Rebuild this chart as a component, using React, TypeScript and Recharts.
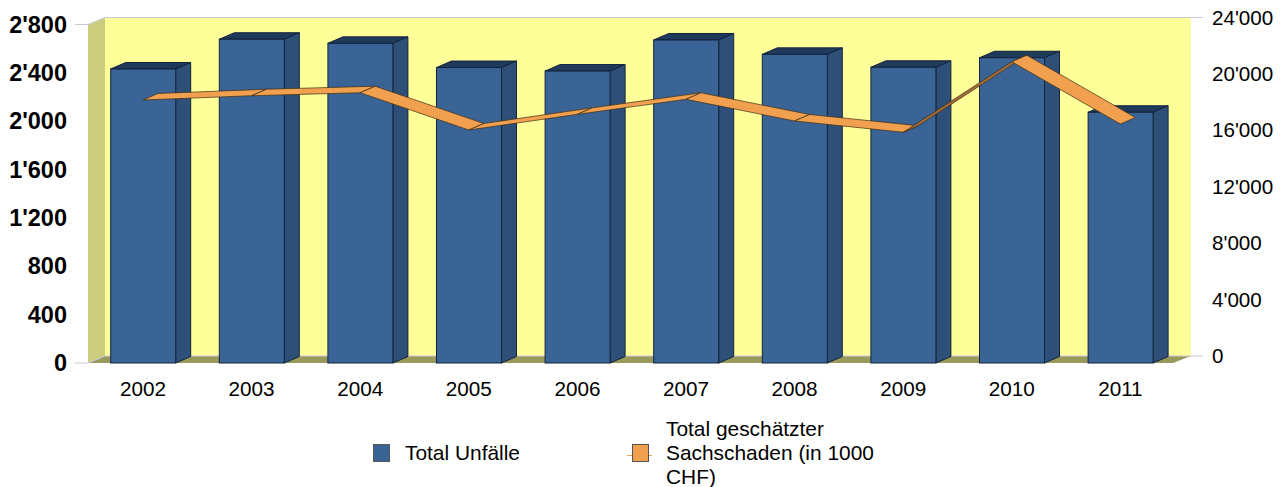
import React from 'react';
import { ComposedChart, Bar, Line, XAxis, YAxis, CartesianGrid, Legend } from 'recharts';

const years = ['2002', '2003', '2004', '2005', '2006', '2007', '2008', '2009', '2010', '2011'];
const accidents = [2432, 2678, 2644, 2444, 2415, 2672, 2553, 2446, 2525, 2074];
const damage = [18647, 18950, 19164, 16520, 17630, 18695, 17160, 16360, 21360, 16945];
const leftTicks = [0, 400, 800, 1200, 1600, 2000, 2400, 2800];
const rightTicks = [0, 4000, 8000, 12000, 16000, 20000, 24000];

const data = years.map((year, i) => ({ year, accidents: accidents[i], damage: damage[i] }));

const font = '"Liberation Sans", Arial, sans-serif';
const fmt = (v: number) => String(v).replace(/\B(?=(\d{3})+$)/g, "'");

// the ribbon needs all points, so the dots collect them and the last one draws it
const pts: { x: number; y: number }[] = [];

function renderRibbon(props: any) {
  const { cx, cy, index } = props;
  pts[index] = { x: cx, y: cy };
  if (index !== years.length - 1) return <g key={index} />;
  const segs = [];
  for (let i = 0; i < years.length - 1; i++) {
    const a = pts[i];
    const b = pts[i + 1];
    const under = (a.y - b.y) / (b.x - a.x) > 6.5 / 15;
    segs.push(
      <polygon
        key={i}
        points={`${a.x},${a.y} ${b.x},${b.y} ${b.x + 15},${b.y - 6.5} ${a.x + 15},${a.y - 6.5}`}
        fill={under ? '#a36d3a' : '#f0a04e'}
        stroke="#3d2c14"
        strokeWidth={0.7}
        strokeLinejoin="round"
      />
    );
  }
  return <g key={index}>{segs}</g>;
}

function Bar3D(props: any) {
  const { x, y, width, height } = props;
  const dx = 15;
  const dy = 6.5;
  const r = x + width;
  const b = y + height;
  return (
    <g stroke="#12233c" strokeWidth={1}>
      <polygon points={`${x},${y} ${x + dx},${y - dy} ${r + dx},${y - dy} ${r},${y}`} fill="#203a5c" />
      <polygon points={`${r},${y} ${r + dx},${y - dy} ${r + dx},${b - dy} ${r},${b}`} fill="#2e4f78" />
      <rect x={x} y={y} width={width} height={height} fill="#3a6496" />
    </g>
  );
}

function GridLine(props: any) {
  const { y1 } = props;
  return (
    <polyline
      points={`75,${y1} 88,${y1} 105,${y1 - 7} 1203,${y1 - 7}`}
      fill="none"
      stroke="#c9c9dc"
      strokeWidth={1}
    />
  );
}

function LeftTick({ y, payload }: any) {
  return (
    <text x={67} y={y} dy={8} textAnchor="end" fontFamily={font} fontSize={23.5} fontWeight="bold" fill="#000">
      {fmt(payload.value)}
    </text>
  );
}

function RightTick({ y, payload }: any) {
  return (
    <text x={1212} y={y - 7} dy={7} textAnchor="start" fontFamily={font} fontSize={20.6} fill="#000">
      {fmt(payload.value)}
    </text>
  );
}

function ChartLegend({ payload }: any) {
  const items = payload || [];
  return (
    <div style={{ position: 'relative', width: 1287, height: 80, fontFamily: font, fontSize: 20.9, lineHeight: '24px', color: '#000' }}>
      {items.map((item: any, i: number) => {
        const swatchX = i === 0 ? 373 : 632;
        const textX = i === 0 ? 405 : 666;
        return (
          <React.Fragment key={item.value}>
            {i === 1 && (
              <div style={{ position: 'absolute', left: 627, top: 48, width: 25, height: 1, background: item.color }} />
            )}
            <div
              style={{
                position: 'absolute',
                left: swatchX,
                top: 37,
                width: 15,
                height: 16,
                background: item.color,
                border: '1px solid #555',
              }}
            />
            <div
              style={{
                position: 'absolute',
                left: textX,
                top: i === 0 ? 34 : 10,
                width: i === 0 ? 200 : 215,
              }}
            >
              {item.value}
            </div>
          </React.Fragment>
        );
      })}
    </div>
  );
}

export default function App() {
  return (
    <div style={{ position: 'absolute', left: 0, top: 0, width: 1287, height: 487, background: '#fff', overflow: 'hidden' }}>
      <svg width={1287} height={487} style={{ position: 'absolute', left: 0, top: 0 }}>
        <rect x={105} y={17.5} width={1086} height={339} fill="#ffff99" />
        <polygon points="88,24.5 105,17.5 105,356 88,363" fill="#cccc7f" />
        <polygon points="88,363 105,356 1191,356 1173,363" fill="#99995c" />
      </svg>
      <div style={{ position: 'absolute', left: 0, top: 0 }}>
        <ComposedChart
          width={1287}
          height={487}
          data={data}
          margin={{ left: 0, right: 0, top: 24.5, bottom: 0 }}
          barCategoryGap={0}
        >
          <CartesianGrid vertical={false} horizontal={(p: any) => <GridLine key={p.key ?? p.y1} {...p} />} />
          <XAxis
            dataKey="year"
            axisLine={false}
            tickLine={false}
            height={44}
            tickMargin={12}
            tick={{ fontFamily: font, fontSize: 20.7, fill: '#000' }}
          />
          <YAxis
            yAxisId="left"
            width={88.7}
            domain={[0, 2800]}
            ticks={leftTicks}
            axisLine={false}
            tickLine={false}
            tick={<LeftTick />}
          />
          <YAxis
            yAxisId="right"
            orientation="right"
            width={112.3}
            domain={[0, 24000]}
            ticks={rightTicks}
            axisLine={false}
            tickLine={false}
            tick={<RightTick />}
          />
          <Bar
            yAxisId="left"
            dataKey="accidents"
            name="Total Unfälle"
            fill="#3a6496"
            barSize={65}
            shape={<Bar3D />}
            isAnimationActive={false}
          />
          <Line
            yAxisId="right"
            dataKey="damage"
            name="Total geschätzter Sachschaden (in 1000 CHF)"
            stroke="#f0a04e"
            strokeWidth={0}
            dot={renderRibbon}
            activeDot={false}
            isAnimationActive={false}
          />
          <Legend
            verticalAlign="bottom"
            height={80}
            content={<ChartLegend />}
            wrapperStyle={{ left: 0, width: 1287 }}
          />
        </ComposedChart>
      </div>
    </div>
  );
}
